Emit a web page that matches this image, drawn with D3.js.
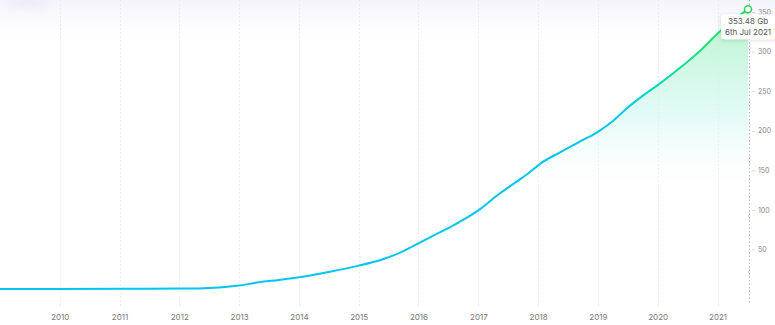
<!DOCTYPE html>
<html>
<head>
<meta charset="utf-8">
<script src="https://cdn.jsdelivr.net/npm/d3@7"></script>
<style>
  html, body { margin: 0; padding: 0; background: #fff; }
  svg { display: block; font-family: Inter, "Noto Sans", sans-serif; }
</style>
</head>
<body>
<svg id="chart" width="775" height="325"></svg>
<script>
// Storage size over time (Gb).
var dates = [
  "2009-01-01", "2010-01-01", "2011-01-01", "2011-07-01", "2012-01-01",
  "2012-05-01", "2012-09-01", "2013-01-01", "2013-05-01", "2013-09-01",
  "2014-01-01", "2014-07-01", "2015-01-01", "2015-06-01", "2015-09-01",
  "2016-01-01", "2016-05-01", "2016-09-01", "2017-01-01", "2017-05-01",
  "2017-09-01", "2017-11-01", "2018-02-01", "2018-05-01", "2018-09-01",
  "2019-01-01", "2019-04-01", "2019-07-01", "2019-10-01", "2020-01-01",
  "2020-04-01", "2020-07-01", "2020-10-01", "2021-01-01", "2021-04-01",
  "2021-07-06"
];
var sizes = [
  0, 0.1, 0.2, 0.3, 0.5,
  0.7, 1.8, 4.3, 8.5, 11.5,
  14.8, 21.5, 29.5, 38, 45,
  57.6, 70.5, 84, 99.4, 119,
  137, 146, 161, 171, 185,
  198.6, 212, 229, 244, 257.6,
  272, 287, 304, 322.8, 339,
  353.48
];
var yTicks = [50, 100, 150, 200, 250, 300, 350];
var tooltipLines = ["353.48 Gb", "6th Jul 2021"];

var parse = d3.timeParse("%Y-%m-%d");
var data = dates.map(function(d, i) { return { date: parse(d), value: sizes[i] }; });

var svg = d3.select("#chart"),
    width = +svg.attr("width"),
    height = +svg.attr("height");

var axisX = 749;

var x = d3.scaleTime()
  .domain([parse("2009-01-01"), parse("2021-07-06")])
  .range([0, 748]);

var y = d3.scaleLinear()
  .domain([0, 350])
  .range([289, 12]);

var defs = svg.append("defs");

// faint lavender band across the top
var topGrad = defs.append("linearGradient")
  .attr("id", "topBand").attr("x1", 0).attr("y1", 0).attr("x2", 0).attr("y2", 1);
topGrad.append("stop").attr("offset", "0%").attr("stop-color", "#f4f4fc");
topGrad.append("stop").attr("offset", "100%").attr("stop-color", "#ffffff");

// line stroke: cyan at the bottom, green at the top
var lineGrad = defs.append("linearGradient")
  .attr("id", "lineGrad").attr("gradientUnits", "userSpaceOnUse")
  .attr("x1", 0).attr("y1", 125).attr("x2", 0).attr("y2", 45);
lineGrad.append("stop").attr("offset", "0%").attr("stop-color", "#00c6ef");
lineGrad.append("stop").attr("offset", "45%").attr("stop-color", "#00d6c0");
lineGrad.append("stop").attr("offset", "100%").attr("stop-color", "#1fe276");

// area fill fading out downward
var areaGrad = defs.append("linearGradient")
  .attr("id", "areaGrad").attr("gradientUnits", "userSpaceOnUse")
  .attr("x1", 0).attr("y1", 10).attr("x2", 0).attr("y2", 200);
areaGrad.append("stop").attr("offset", "0%").attr("stop-color", "#b0f2c4").attr("stop-opacity", 0.9);
areaGrad.append("stop").attr("offset", "55%").attr("stop-color", "#d6f8f2").attr("stop-opacity", 0.7);
areaGrad.append("stop").attr("offset", "100%").attr("stop-color", "#ffffff").attr("stop-opacity", 0);

var shadow = defs.append("filter").attr("id", "shadow")
  .attr("x", "-30%").attr("y", "-50%").attr("width", "160%").attr("height", "200%");
shadow.append("feDropShadow").attr("dx", 0).attr("dy", 1).attr("stdDeviation", 2)
  .attr("flood-color", "#000").attr("flood-opacity", 0.15);

var blur = defs.append("filter").attr("id", "blur")
  .attr("x", "-50%").attr("y", "-100%").attr("width", "200%").attr("height", "300%");
blur.append("feGaussianBlur").attr("stdDeviation", 4);

svg.append("rect")
  .attr("x", 0).attr("y", 0).attr("width", width).attr("height", 36)
  .attr("fill", "url(#topBand)");

svg.append("ellipse")
  .attr("cx", 28).attr("cy", 2).attr("rx", 22).attr("ry", 5)
  .attr("fill", "#ebebf5").attr("filter", "url(#blur)");

// vertical year gridlines
var years = x.ticks(d3.timeYear.every(1)).filter(function(d) { return d.getFullYear() >= 2010; });

svg.append("g").attr("class", "grid")
  .selectAll("line")
  .data(years)
  .enter().append("line")
  .attr("x1", function(d) { return Math.round(x(d)) + 0.5; })
  .attr("x2", function(d) { return Math.round(x(d)) + 0.5; })
  .attr("y1", 0).attr("y2", 306)
  .attr("stroke", "#ececf0")
  .attr("stroke-width", 1)
  .attr("stroke-dasharray", "2,2");

// x axis labels
svg.append("g")
  .attr("transform", "translate(0,305)")
  .call(d3.axisBottom(x).tickValues(years).tickFormat(d3.timeFormat("%Y")).tickSize(0).tickPadding(9))
  .call(function(g) { g.select(".domain").remove(); })
  .call(function(g) {
    g.selectAll("text")
      .attr("font-family", "Inter, sans-serif")
      .attr("font-size", 8)
      .attr("fill", "#777");
  });

// area and line
var area = d3.area()
  .x(function(d) { return x(d.date); })
  .y0(y(0))
  .y1(function(d) { return y(d.value); })
  .curve(d3.curveMonotoneX);

var line = d3.line()
  .x(function(d) { return x(d.date); })
  .y(function(d) { return y(d.value); })
  .curve(d3.curveMonotoneX);

svg.append("path")
  .datum(data)
  .attr("d", area)
  .attr("fill", "url(#areaGrad)");

svg.append("path")
  .datum(data)
  .attr("d", line)
  .attr("fill", "none")
  .attr("stroke", "url(#lineGrad)")
  .attr("stroke-width", 2)
  .attr("stroke-linejoin", "round");

// right y axis
svg.append("line")
  .attr("x1", axisX + 0.5).attr("x2", axisX + 0.5)
  .attr("y1", 0).attr("y2", 303)
  .attr("stroke", "#b8b8c0")
  .attr("stroke-width", 1)
  .attr("stroke-dasharray", "1.5,2");

svg.append("g")
  .attr("transform", "translate(" + (axisX + 3) + ",0)")
  .call(d3.axisRight(y).tickValues(yTicks).tickSize(3).tickPadding(3))
  .call(function(g) { g.select(".domain").remove(); })
  .call(function(g) {
    g.selectAll(".tick line").attr("stroke", "#d8d8de");
    g.selectAll("text")
      .attr("font-family", "Inter, sans-serif")
      .attr("font-size", 7)
      .attr("fill", "#888");
  });

// end point marker and tooltip
var last = data[data.length - 1];

svg.append("circle")
  .attr("cx", x(last.date))
  .attr("cy", y(last.value))
  .attr("r", 3.5)
  .attr("fill", "#fff")
  .attr("stroke", "#2fd35a")
  .attr("stroke-width", 1.6);

var tip = svg.append("g")
  .attr("transform", "translate(" + x(last.date) + "," + (y(last.value) + 5) + ")");

tip.append("rect")
  .attr("x", -27).attr("y", 0)
  .attr("width", 60).attr("height", 25)
  .attr("rx", 3)
  .attr("fill", "#fff")
  .attr("filter", "url(#shadow)");

tip.selectAll("text")
  .data(tooltipLines)
  .enter().append("text")
  .attr("x", 0)
  .attr("y", function(d, i) { return 10 + i * 11; })
  .attr("text-anchor", "middle")
  .attr("font-size", 8)
  .attr("fill", "#555")
  .text(function(d) { return d; });
</script>
</body>
</html>
